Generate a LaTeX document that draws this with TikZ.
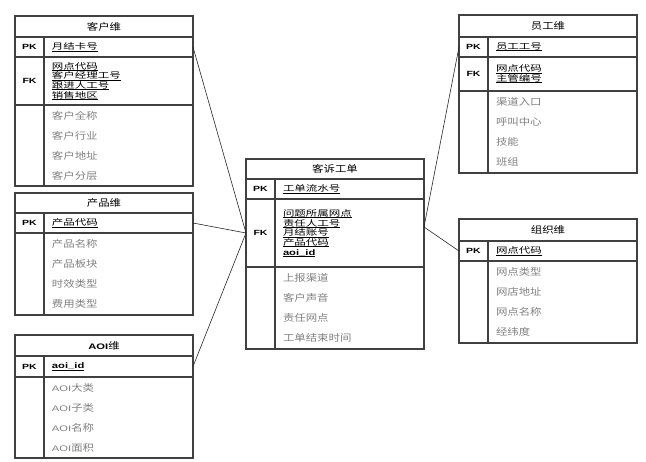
\documentclass[tikz,border=0pt]{standalone}
\usepackage{fontspec}
\setmainfont{Noto Sans CJK SC}[FakeStretch=1.2]
\newfontfamily\fkfont{Noto Sans CJK SC}[FakeStretch=1.4]
\newfontfamily\keyfont{Liberation Sans}[FakeStretch=1.4]
\usetikzlibrary{positioning}

\newcommand{\tightlines}{\lineskiplimit=-20pt\relax}
\newcommand{\ul}[1]{\leavevmode{\setbox0=\hbox{#1}\rlap{\rule[-1.3pt]{\wd0}{0.45pt}}\box0}}
\tikzset{
  cell/.style={draw=black!75, line width=1.1pt, inner sep=0pt, outer sep=0pt},
  title/.style={cell, minimum width=178pt, minimum height=21pt, anchor=north west,
    font=\fontsize{9.5}{11}\selectfont},
  keycell/.style={cell, minimum width=29pt, font=\keyfont\bfseries\fontsize{7.5}{8}\selectfont},
  fieldcell/.style={cell, text width=133pt, inner xsep=8pt, align=left},
  pkrow/.style={minimum height=20pt},
  keyfield/.style={fieldcell, font=\fkfont\fontsize{8.2}{9.7}\selectfont\tightlines},
  attrs/.style={fieldcell, text=black!50, font=\fontsize{9.5}{20}\selectfont},
  link/.style={draw=black!85, line width=0.6pt}
}
\newcommand{\aoi}[1][]{{\keyfont#1\fontsize{8}{9.7}\selectfont AOI}}

\begin{document}
\begin{tikzpicture}[x=1pt, y=-1pt]
\useasboundingbox (0,0) rectangle (646,462);

% 客户维
\node[title] (cust) at (15,16) {客户维};
\node[keycell, pkrow, anchor=north west] (custpkk) at (cust.south west) {PK};
\node[keyfield, pkrow, right=0pt of custpkk] (custpk) {\ul{月结卡号}};
\node[keycell, minimum height=48pt, below=0pt of custpkk] (custfkk) {FK};
\node[keyfield, minimum height=48pt, right=0pt of custfkk] (custfk)
  {\ul{网点代码}\\\ul{客户经理工号}\\\ul{跟进人工号}\\\ul{销售地区}};
\node[keycell, minimum height=81pt, below=0pt of custfkk] (custak) {};
\node[attrs, minimum height=81pt, right=0pt of custak] (custa)
  {客户全称\\客户行业\\客户地址\\客户分层};

% 产品维
\node[title, minimum height=20pt] (prod) at (15,193) {产品维};
\node[keycell, pkrow, anchor=north west] (prodpkk) at (prod.south west) {PK};
\node[keyfield, pkrow, right=0pt of prodpkk] (prodpk) {\ul{产品代码}};
\node[keycell, minimum height=82pt, below=0pt of prodpkk] (prodak) {};
\node[attrs, minimum height=82pt, right=0pt of prodak] (proda)
  {产品名称\\产品板块\\时效类型\\费用类型};

% AOI维
\node[title] (aoi) at (15,335) {\aoi[\bfseries]维};
\node[keycell, minimum height=21pt, anchor=north west] (aoipkk) at (aoi.south west) {PK};
\node[keyfield, minimum height=21pt, right=0pt of aoipkk] (aoipk)
  {\ul{\keyfont\bfseries\fontsize{8}{9.7}\selectfont aoi\_id}};
\node[keycell, minimum height=81pt, below=0pt of aoipkk] (aoiak) {};
\node[attrs, minimum height=81pt, right=0pt of aoiak] (aoia)
  {\aoi 大类\\\aoi 子类\\\aoi 名称\\\aoi 面积};

% 客诉工单
\node[title, minimum height=20pt] (tk) at (246,159) {客诉工单};
\node[keycell, pkrow, anchor=north west] (tkpkk) at (tk.south west) {PK};
\node[keyfield, pkrow, right=0pt of tkpkk] (tkpk) {\ul{工单流水号}};
\node[keycell, minimum height=68pt, below=0pt of tkpkk] (tkfkk) {FK};
\node[keyfield, minimum height=68pt, right=0pt of tkfkk] (tkfk)
  {\ul{问题所属网点}\\\ul{责任人工号}\\\ul{月结账号}\\\ul{产品代码}\\
   \ul{\keyfont\bfseries\fontsize{8}{9.7}\selectfont aoi\_id}};
\node[keycell, minimum height=82pt, below=0pt of tkfkk] (tkak) {};
\node[attrs, minimum height=82pt, right=0pt of tkak] (tka)
  {上报渠道\\客户声音\\责任网点\\工单结束时间};

% 员工维
\node[title, minimum height=22pt] (emp) at (459,15) {员工维};
\node[keycell, pkrow, anchor=north west] (emppkk) at (emp.south west) {PK};
\node[keyfield, pkrow, right=0pt of emppkk] (emppk) {\ul{员工工号}};
\node[keycell, minimum height=34pt, below=0pt of emppkk] (empfkk) {FK};
\node[keyfield, minimum height=34pt, right=0pt of empfkk] (empfk)
  {\ul{网点代码}\\\ul{主管编号}};
\node[keycell, minimum height=82pt, below=0pt of empfkk] (empak) {};
\node[attrs, minimum height=82pt, right=0pt of empak] (empa)
  {渠道入口\\呼叫中心\\技能\\班组};

% 组织维
\node[title, minimum height=22pt] (org) at (459,219) {组织维};
\node[keycell, pkrow, anchor=north west] (orgpkk) at (org.south west) {PK};
\node[keyfield, pkrow, right=0pt of orgpkk] (orgpk) {\ul{网点代码}};
\node[keycell, minimum height=82pt, below=0pt of orgpkk] (orgak) {};
\node[attrs, minimum height=82pt, right=0pt of orgak] (orga)
  {网点类型\\网店地址\\网点名称\\经纬度};

% 关联
\draw[link] (custpk.east) -- (tkfkk.west);
\draw[link] (prodpk.east) -- (tkfkk.west);
\draw[link] (aoipk.east) -- (tkfkk.west);
\draw[link] ([yshift=6pt]tkfk.east) -- (emppkk.west);
\draw[link] ([yshift=6pt]tkfk.east) -- (orgpkk.west);
\end{tikzpicture}
\end{document}
